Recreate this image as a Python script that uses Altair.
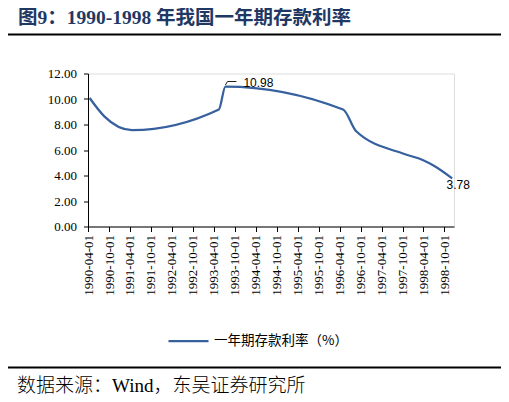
import altair as alt
import pandas as pd

# ---- data (policy change dates of 1-year deposit rate, %) ----
dates = ["1990-04-15", "1990-08-21", "1991-04-21", "1993-05-15", "1993-07-11",
         "1996-05-01", "1996-08-23", "1997-10-23", "1998-03-25", "1998-07-01",
         "1998-12-07"]
rates = [10.08, 8.64, 7.56, 9.18, 10.98, 9.18, 7.47, 5.67, 5.22, 4.77, 3.78]
series_name = "一年期存款利率（%）"

tick_dates = ["1990-04-01", "1990-10-01", "1991-04-01", "1991-10-01", "1992-04-01",
              "1992-10-01", "1993-04-01", "1993-10-01", "1994-04-01", "1994-10-01",
              "1995-04-01", "1995-10-01", "1996-04-01", "1996-10-01", "1997-04-01",
              "1997-10-01", "1998-04-01", "1998-10-01"]
x_domain = ["1990-04-01", "1998-12-23"]
y_ticks = [0, 2, 4, 6, 8, 10, 12]

title_text = "图9：1990-1998 年我国一年期存款利率"
source_text = "数据来源：Wind，东吴证券研究所"


def ms(d):
    return int(pd.Timestamp(d).timestamp() * 1000)


df = pd.DataFrame({"date": [ms(d) for d in dates], "rate": rates,
                   "series": [series_name] * len(dates)})

W, H = 366, 153
BLUE = "#36609e"
SERIF = "Liberation Serif, Noto Sans CJK SC"

x_enc = alt.X("date:T",
              scale=alt.Scale(type="utc", domain=[ms(d) for d in x_domain]),
              axis=alt.Axis(values=[ms(d) for d in tick_dates], format="%Y-%m-%d",
                            labelAngle=270, labelPadding=3, tickSize=5,
                            labelOverlap=False, labelBound=False, labelFlush=False,
                            grid=False, title=None))
y_enc = alt.Y("rate:Q",
              scale=alt.Scale(domain=[0, 12], nice=False),
              axis=alt.Axis(values=y_ticks, format=".2f", labelPadding=7,
                            tickSize=4.5, labelOverlap=False, grid=False, title=None))

base = alt.Chart(df)

line = base.mark_line(interpolate="monotone", strokeWidth=2.25).encode(
    x=x_enc, y=y_enc,
    color=alt.Color("series:N", scale=alt.Scale(range=[BLUE]),
                    legend=alt.Legend(orient="none", legendX=79, legendY=246,
                                      title=None, symbolType="stroke",
                                      symbolSize=1600, symbolStrokeWidth=2.25,
                                      labelFont="Noto Sans CJK SC", labelFontSize=13.5,
                                      labelColor="#000", labelOffset=4, padding=0)),
)

peak = base.transform_filter("datum.rate == 10.98")
last = base.transform_filter("datum.rate == 3.78")

peak_label = peak.mark_text(
    align="left", baseline="middle", dx=18, dy=-4,
    font="Liberation Sans", fontSize=12, color="#000"
).encode(x=x_enc, y=y_enc, text=alt.Text("rate:Q", format=".2f"))

end_label = last.mark_text(
    align="center", baseline="middle", dx=6, dy=7,
    font="Liberation Sans", fontSize=12, color="#000"
).encode(x=x_enc, y=y_enc, text=alt.Text("rate:Q", format=".2f"))

leader1 = peak.mark_rule(
    color="#222", strokeWidth=1, xOffset=0, yOffset=-1.5, x2Offset=2, y2Offset=-5
).encode(x=x_enc, y=y_enc, x2="date:T", y2="rate:Q")

leader2 = peak.mark_rule(
    color="#222", strokeWidth=1, xOffset=2, yOffset=-5, x2Offset=11, y2Offset=-5
).encode(x=x_enc, y=y_enc, x2="date:T", y2="rate:Q")

dummy = alt.Data(values=[{"k": 1}])

title = alt.Chart(dummy).mark_text(
    align="left", baseline="middle", font=SERIF, fontSize=19.5, fontWeight="bold",
    color="#1f3864"
).encode(x=alt.value(-70), y=alt.value(-56), text=alt.value(title_text))

top_rule = alt.Chart(dummy).mark_rule(color="#000", strokeWidth=2).encode(
    x=alt.value(-83), x2=alt.value(415), y=alt.value(-39))

bottom_rule = alt.Chart(dummy).mark_rule(color="#000", strokeWidth=2).encode(
    x=alt.value(-83), x2=alt.value(415), y=alt.value(294))

source = alt.Chart(dummy).mark_text(
    align="left", baseline="middle", font=SERIF, fontSize=19, fontWeight=300,
    color="#000"
).encode(x=alt.value(-71), y=alt.value(312), text=alt.value(source_text))

chart = alt.layer(
    line, leader1, leader2, peak_label, end_label, title, top_rule, bottom_rule, source
).properties(
    width=W, height=H,
    padding={"left": 80, "top": 65.5, "right": 47, "bottom": 170},
    autosize=alt.AutoSizeParams(type="none"),
).configure_view(stroke=None).configure(background="white").configure_axis(
    labelFont="Liberation Serif", labelFontSize=13, labelColor="#000",
    tickColor="#000", domainColor="#000", tickWidth=1, domainWidth=1
)

chart.save("out.html", embed_options={"renderer": "svg", "actions": False})
